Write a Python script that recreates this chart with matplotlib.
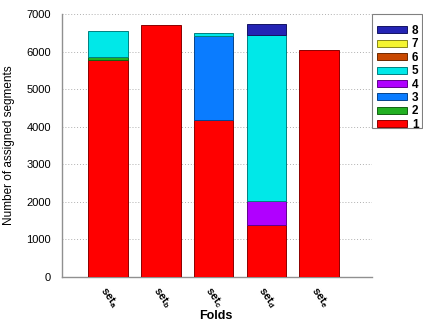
import numpy as np
import matplotlib.pyplot as plt
from matplotlib.colors import to_rgb
from matplotlib.patches import Rectangle

plt.rcParams['font.family'] = ['Liberation Sans', 'DejaVu Sans']

folds = ['a', 'b', 'c', 'd', 'e']
classes = ['1', '2', '3', '4', '5', '6', '7', '8']
colors = ['#ff0000', '#22b022', '#0a7cff', '#b000ff', '#00e8e8', '#c84800', '#f4f430', '#2424b4']

# segment counts per class (rows) for each fold (columns)
seg1 = [5780, 6720, 4180, 1380, 6030]
seg2 = [70, 0, 0, 0, 0]
seg3 = [0, 0, 2240, 0, 0]
seg4 = [0, 0, 0, 630, 0]
seg5 = [690, 0, 70, 4430, 0]
seg6 = [0, 0, 0, 0, 0]
seg7 = [0, 0, 0, 0, 0]
seg8 = [0, 0, 0, 300, 0]
series = [seg1, seg2, seg3, seg4, seg5, seg6, seg7, seg8]

fig = plt.figure(figsize=(4.23, 3.22), dpi=100)
ax = fig.add_axes([0.147, 0.14, 0.732, 0.8165])

x = np.arange(len(folds))
bottom = np.zeros(len(folds))
handles = []
for lab, vals, c in zip(classes, series, colors):
    vals = np.array(vals, dtype=float)
    edge = tuple(v * 0.55 for v in to_rgb(c))
    nz = vals > 0
    ax.bar(x[nz], vals[nz], 0.75, bottom=bottom[nz], color=c, edgecolor=edge,
           linewidth=0.7, zorder=3)
    handles.append(Rectangle((0, 0), 1, 1, facecolor=c, edgecolor=edge, linewidth=0.7))
    bottom += vals

ax.set_xlim(-0.87, 5.0)
ax.set_ylim(0, 7000)
ax.set_yticks(range(0, 7001, 1000))
ax.yaxis.grid(True, linestyle=(0, (1, 2)), color='#b0b0b0', linewidth=0.7, zorder=0)
ax.set_xticks(x)
ax.set_xticklabels(['set$_{\\mathregular{%s}}$' % f for f in folds],
                   rotation=-55, ha='left', va='top', rotation_mode='anchor',
                   fontsize=8, fontweight='bold')
ax.tick_params(axis='y', length=0, labelsize=8, pad=8)
ax.tick_params(axis='x', length=0, pad=5)
for s in ['top', 'right']:
    ax.spines[s].set_visible(False)
for s in ['left', 'bottom']:
    ax.spines[s].set_color('#909090')
    ax.spines[s].set_linewidth(1.0)

ax.set_ylabel('Number of assigned segments', fontsize=8.5, labelpad=8)
fig.text(216 / 423, 1 - 316 / 322, 'Folds', fontsize=9, fontweight='bold',
         ha='center', va='center')

# legend box drawn by hand, entries placed inside it
fig.add_artist(Rectangle((372 / 423, 1 - 128 / 322), 50 / 423, 114 / 322,
                         transform=fig.transFigure, facecolor='white',
                         edgecolor='#808080', linewidth=0.8))
leg = fig.legend(handles[::-1], classes[::-1], loc='upper left',
                 bbox_to_anchor=(377 / 423, 1 - 25 / 322), fontsize=8.5,
                 frameon=False, handlelength=2.55, handleheight=0.55,
                 labelspacing=0.12, borderpad=0, handletextpad=0.4,
                 borderaxespad=0)
for t in leg.get_texts():
    t.set_fontweight('bold')

fig.savefig('out.png', dpi=100)
